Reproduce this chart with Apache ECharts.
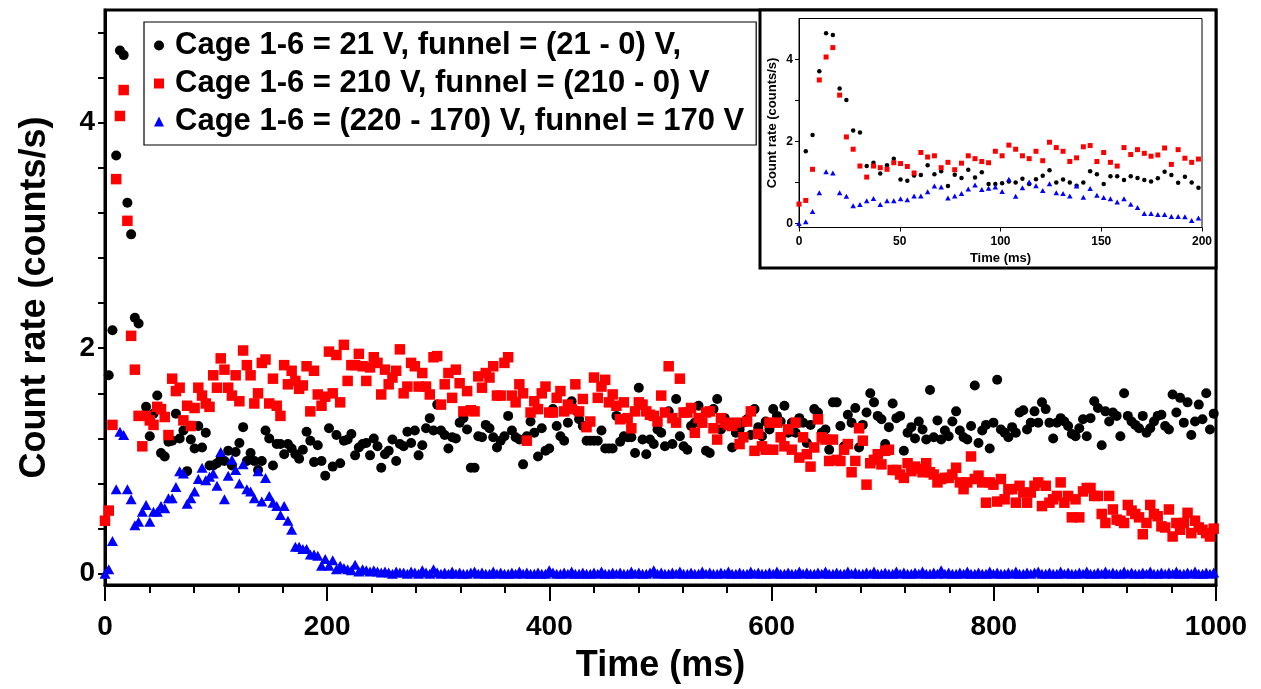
<!DOCTYPE html>
<html>
<head>
<meta charset="utf-8">
<script src="https://cdn.jsdelivr.net/npm/echarts@6/dist/echarts.min.js"></script>
<style>
html,body{margin:0;padding:0;background:#fff;}
#chart{width:1261px;height:689px;}
</style>
</head>
<body>
<div id="chart"></div>
<script>
// ---- data ----
const SERIES_NAMES = [
  'Cage 1-6 = 21 V, funnel = (21 - 0) V,',
  'Cage 1-6 = 210 V, funnel = (210 - 0) V',
  'Cage 1-6 = (220 - 170) V, funnel = 170 V'
];
const TIME_STEP_MS = 3.36; // sampling interval of the bins
const X_TICKS = [0, 200, 400, 600, 800, 1000];
const Y_TICK_LABELS = [0, 2, 4];
const Y_TICKS = [0, 0.4, 0.8, 1.2, 1.6, 2, 2.4, 2.8, 3.2, 3.6, 4, 4.4, 4.8];
const INSET_X_TICKS = [0, 50, 100, 150, 200];
const INSET_Y_TICKS = [0, 1, 2, 3, 4];

const black = [
  null,1.76,2.16,3.71,4.64,4.60,3.29,3.01,2.27,2.22,
  1.40,1.48,1.22,1.42,1.58,1.07,1.04,1.17,1.18,1.42,
  1.20,1.27,0.91,1.19,1.11,1.31,1.12,1.25,0.96,0.96,
  0.98,1.02,1.00,1.09,0.96,1.08,1.16,1.30,1.00,1.07,
  1.00,0.92,1.00,1.27,1.20,0.96,1.15,1.15,1.06,1.15,
  1.11,1.06,1.02,1.10,1.26,1.18,0.99,1.14,1.00,0.87,
  1.29,0.95,1.23,0.98,1.18,1.19,1.24,1.05,1.12,1.15,
  1.16,1.05,1.20,1.13,0.94,1.06,1.09,1.19,1.00,1.15,
  1.13,1.26,1.16,1.27,1.05,1.14,1.29,1.38,1.27,1.50,
  1.27,1.23,1.11,1.21,1.20,1.34,1.38,1.28,0.94,0.94,
  1.22,1.21,1.32,1.29,1.21,1.12,1.18,1.22,1.40,1.27,
  1.21,1.19,0.97,1.22,1.35,1.25,1.04,1.29,1.09,1.11,
  1.46,1.31,1.22,1.18,1.34,1.53,1.45,1.37,1.31,1.18,
  1.18,1.18,1.18,1.27,1.11,1.11,1.11,1.40,1.17,1.22,
  1.21,1.21,1.07,1.65,1.19,1.06,1.19,1.15,1.28,1.25,
  1.13,1.44,1.15,1.55,1.22,1.13,1.10,1.31,1.34,1.49,
  1.34,1.09,1.07,1.46,1.55,1.28,1.38,1.34,1.12,1.25,
  1.28,1.34,1.37,1.23,1.46,1.30,1.22,1.35,1.28,1.46,
  1.40,1.35,1.49,1.25,1.34,1.25,1.38,1.34,1.16,1.32,
  1.46,1.43,1.25,1.28,1.10,1.52,1.52,1.31,1.13,1.41,
  1.34,1.47,1.12,1.32,1.43,1.60,1.52,1.40,1.37,1.15,
  1.30,1.51,1.38,1.40,1.09,1.25,1.30,1.20,1.35,1.28,
  1.19,1.63,1.21,1.36,1.19,1.27,1.22,1.35,1.44,1.27,
  1.21,1.19,1.31,1.67,1.16,1.27,1.32,1.11,1.34,1.72,
  1.28,1.25,1.21,1.30,1.25,1.43,1.45,1.28,1.34,1.44,
  1.34,1.52,1.46,1.34,1.20,1.34,1.38,1.35,1.31,1.24,
  1.22,1.29,1.37,1.22,1.38,1.53,1.47,1.14,1.44,1.35,
  1.43,1.40,1.22,1.60,1.40,1.35,1.32,1.29,1.40,1.25,
  1.29,1.35,1.40,1.41,1.31,1.28,1.59,1.43,1.56,1.34,
  1.52,1.23,1.35,1.50,1.37,1.60,1.28,1.42
];

const red = [
  0.47,0.56,1.32,3.50,4.06,4.29,3.13,2.11,1.81,1.40,
  1.13,1.40,1.36,1.32,1.48,1.46,1.39,1.23,1.73,1.62,
  1.65,1.36,1.49,1.31,1.47,1.65,1.58,1.51,1.48,1.76,
  1.65,1.91,1.81,1.65,1.58,1.76,1.53,1.98,1.85,1.76,
  1.51,1.60,1.87,1.90,1.51,1.73,1.49,1.40,1.85,1.68,
  1.80,1.71,1.64,1.67,1.84,1.44,1.80,1.59,1.49,1.57,
  1.97,1.60,1.94,1.52,2.03,1.71,1.85,1.85,1.95,1.84,
  1.71,1.83,1.92,1.87,1.59,1.81,1.68,1.74,1.80,1.99,
  1.60,1.66,1.87,1.84,1.66,1.78,1.66,1.59,1.92,1.93,
  1.50,1.68,1.78,1.56,1.81,1.69,1.44,1.62,1.45,1.44,
  1.75,1.65,1.78,1.74,1.84,1.58,1.58,1.87,1.92,1.58,
  1.52,1.68,1.60,1.18,1.43,1.53,1.46,1.60,1.66,1.43,
  1.43,1.56,1.62,1.44,1.50,1.46,1.68,1.44,1.55,1.30,
  1.35,1.74,1.56,1.66,1.72,1.52,1.59,1.49,1.37,1.52,
  1.38,1.29,1.44,1.52,1.50,1.44,1.41,1.40,1.35,1.58,
  1.43,1.84,1.38,1.34,1.73,1.43,1.43,1.47,1.25,1.38,
  1.34,1.43,1.44,1.29,1.19,1.38,1.34,1.32,1.31,1.34,
  1.15,1.21,1.35,1.44,1.09,1.24,1.13,1.10,1.34,1.10,
  1.34,1.21,1.13,1.28,1.10,1.34,1.03,1.21,1.06,0.95,
  1.12,1.37,1.21,1.19,1.00,1.19,1.01,1.00,1.10,1.15,
  0.90,1.00,1.29,1.18,0.79,0.98,1.01,1.06,0.97,1.09,
  1.10,0.92,0.92,0.88,0.85,0.98,0.91,0.95,0.93,0.90,
  0.98,0.90,0.88,0.81,0.84,0.85,0.85,0.88,0.94,0.81,
  0.75,0.81,1.04,0.84,0.87,0.81,0.63,0.81,0.79,0.64,
  0.84,0.66,0.75,0.75,0.63,0.78,0.72,0.63,0.72,0.78,
  0.81,0.60,0.78,0.63,0.66,0.69,0.81,0.63,0.69,0.50,
  0.66,0.50,0.73,0.76,0.76,0.69,0.69,0.53,0.45,0.69,
  0.57,0.48,0.47,0.45,0.61,0.56,0.53,0.50,0.35,0.45,
  0.61,0.53,0.51,0.42,0.41,0.57,0.33,0.45,0.39,0.45,
  0.54,0.36,0.47,0.41,0.39,0.36,0.33,0.40
];

const blue = [
  0.00,0.04,0.29,0.75,1.26,1.23,0.75,0.66,0.43,0.46,
  0.55,0.61,0.46,0.55,0.55,0.60,0.58,0.67,0.67,0.77,
  0.91,0.89,0.62,0.67,0.73,0.84,0.94,0.83,0.86,0.89,
  0.78,1.08,0.66,0.87,1.01,0.92,0.80,0.97,0.75,0.73,
  0.67,0.91,0.64,0.85,0.69,0.63,0.60,0.52,0.60,0.47,
  0.39,0.24,0.24,0.22,0.22,0.17,0.17,0.16,0.07,0.13,
  0.07,0.12,0.04,0.07,0.05,0.04,0.03,0.08,0.02,0.04,
  0.03,0.02,0.03,0.02,0.01,0.02,0.01,0.00,0.02,0.01,
  0.01,0.00,0.02,0.01,0.00,0.03,0.01,0.00,0.04,0.01,
  0.00,0.01,0.00,0.02,0.00,0.01,0.00,0.00,0.01,0.02,
  0.00,0.01,0.00,0.00,0.02,0.00,0.01,0.00,0.00,0.01,
  0.00,0.02,0.00,0.01,0.00,0.00,0.01,0.00,0.00,0.03,
  0.01,0.00,0.00,0.01,0.00,0.02,0.00,0.00,0.01,0.00,
  0.00,0.01,0.00,0.02,0.00,0.00,0.01,0.00,0.01,0.00,
  0.00,0.02,0.00,0.01,0.00,0.00,0.01,0.03,0.00,0.01,
  0.00,0.00,0.01,0.00,0.02,0.00,0.00,0.01,0.00,0.00,
  0.02,0.00,0.01,0.00,0.00,0.01,0.00,0.02,0.00,0.00,
  0.01,0.00,0.00,0.02,0.00,0.01,0.00,0.00,0.01,0.00,
  0.02,0.00,0.00,0.01,0.00,0.00,0.02,0.00,0.01,0.00,
  0.00,0.01,0.00,0.02,0.00,0.00,0.01,0.00,0.00,0.02,
  0.00,0.01,0.00,0.00,0.01,0.00,0.02,0.00,0.00,0.01,
  0.00,0.00,0.02,0.00,0.01,0.00,0.00,0.01,0.00,0.02,
  0.00,0.00,0.01,0.00,0.03,0.00,0.01,0.00,0.00,0.01,
  0.00,0.02,0.00,0.00,0.01,0.00,0.00,0.02,0.00,0.01,
  0.00,0.00,0.01,0.00,0.02,0.00,0.00,0.01,0.00,0.01,
  0.02,0.00,0.00,0.01,0.00,0.00,0.02,0.00,0.01,0.00,
  0.00,0.01,0.00,0.02,0.00,0.00,0.01,0.00,0.02,0.00,
  0.01,0.00,0.00,0.02,0.00,0.01,0.00,0.00,0.01,0.00,
  0.02,0.00,0.00,0.01,0.00,0.01,0.00,0.02,0.00,0.00,
  0.01,0.00,0.02,0.00,0.00,0.01,0.00,0.01
];

// ---- build ----
const FONT = "'Liberation Sans', Arial, Helvetica, sans-serif";
function pairs(vals, maxT) {
  const out = [];
  vals.forEach(function (v, i) {
    const t = +(i * TIME_STEP_MS).toFixed(3);
    if (v === null) return;
    if (maxT !== undefined && t > maxT) return;
    out.push([t, v]);
  });
  return out;
}
const plain = function (v) { return String(v); };

const COLORS = ['#000000', '#ff0000', '#0000ff'];
const SYMBOLS = ['circle', 'rect', 'triangle'];
const MAIN_SIZES = [10, 10.5, [11, 10]];
const INSET_SIZES = [4.5, 5, [5.5, 5]];
const DATA = [black, red, blue];

const series = [];
for (let k = 0; k < 3; k++) {
  series.push({
    name: SERIES_NAMES[k], type: 'scatter', xAxisIndex: 0, yAxisIndex: 0,
    symbol: SYMBOLS[k], symbolSize: MAIN_SIZES[k],
    itemStyle: { color: COLORS[k], opacity: 1 },
    data: pairs(DATA[k]), z: 2 + k, silent: true
  });
}
for (let k = 0; k < 3; k++) {
  series.push({
    name: SERIES_NAMES[k], type: 'scatter', xAxisIndex: 1, yAxisIndex: 1,
    symbol: SYMBOLS[k], symbolSize: INSET_SIZES[k],
    itemStyle: { color: COLORS[k], opacity: 1 },
    data: pairs(DATA[k], 200), z: 12 + k, silent: true
  });
}

const txt = function (size) {
  return { fontSize: size, fontWeight: 'bold', color: '#000', fontFamily: FONT };
};

const option = {
  animation: false,
  backgroundColor: '#ffffff',
  grid: [
    { left: 105, top: 10, width: 1111, height: 577, show: true, borderColor: '#000', borderWidth: 3, backgroundColor: 'transparent' },
    { left: 799, top: 18.5, width: 403, height: 209, show: true, borderColor: '#000', borderWidth: 1, backgroundColor: 'transparent', z: 11 }
  ],
  xAxis: [
    {
      gridIndex: 0, type: 'value', min: 0, max: 1000, interval: 200,
      axisLine: { show: true, onZero: false, lineStyle: { color: '#000', width: 3 } },
      axisTick: { show: true, length: 16, lineStyle: { color: '#000', width: 2 } },
      minorTick: { show: true, splitNumber: 5, length: 8, lineStyle: { color: '#000', width: 2 } },
      axisLabel: Object.assign({ margin: 28, customValues: X_TICKS, formatter: plain }, txt(28)),
      splitLine: { show: false }, minorSplitLine: { show: false },
      name: 'Time (ms)', nameLocation: 'middle', nameGap: 63, nameTextStyle: txt(36)
    },
    {
      gridIndex: 1, type: 'value', min: 0, max: 200, interval: 50, z: 11,
      axisLine: { show: true, onZero: false, lineStyle: { color: '#000', width: 1 } },
      axisTick: { show: true, length: 4, lineStyle: { color: '#000', width: 1 } },
      axisLabel: Object.assign({ margin: 8, customValues: INSET_X_TICKS, formatter: plain }, txt(12)),
      splitLine: { show: false },
      name: 'Time (ms)', nameLocation: 'middle', nameGap: 24, nameTextStyle: txt(13)
    }
  ],
  yAxis: [
    {
      gridIndex: 0, type: 'value', min: -0.1, max: 5,
      axisLine: { show: true, onZero: false, lineStyle: { color: '#000', width: 3 } },
      axisTick: { show: true, customValues: Y_TICKS, length: 7, lineStyle: { color: '#000', width: 2 } },
      axisLabel: Object.assign({ margin: 10, customValues: Y_TICK_LABELS, formatter: plain }, txt(28)),
      splitLine: { show: false },
      name: 'Count rate (counts/s)', nameLocation: 'middle', nameGap: 52, nameTextStyle: txt(36)
    },
    {
      gridIndex: 1, type: 'value', min: -0.1, max: 5, z: 11,
      axisLine: { show: true, onZero: false, lineStyle: { color: '#000', width: 1 } },
      axisTick: { show: true, customValues: INSET_Y_TICKS, length: 4, lineStyle: { color: '#000', width: 1 } },
      axisLabel: Object.assign({ margin: 6, customValues: Y_TICK_LABELS, formatter: plain }, txt(12)),
      splitLine: { show: false },
      name: 'Count rate (counts/s)', nameLocation: 'middle', nameGap: 20, nameTextStyle: txt(13)
    }
  ],
  legend: {
    show: true, orient: 'vertical', left: 144, top: 22,
    itemGap: 7, itemWidth: 10, itemHeight: 10,
    padding: [8, 12, 8, 10],
    borderColor: '#000', borderWidth: 1.2, backgroundColor: '#fff',
    textStyle: Object.assign({ padding: [0, 0, 0, 6] }, txt(31)),
    selectedMode: false,
    data: SERIES_NAMES
  },
  graphic: [
    {
      type: 'rect', z: 10, silent: true,
      shape: { x: 760, y: 10, width: 456, height: 258 },
      style: { fill: '#fff', stroke: '#000', lineWidth: 3 }
    }
  ],
  series: series
};

const chart = echarts.init(document.getElementById('chart'), null, { renderer: 'canvas' });
chart.setOption(option);
</script>
</body>
</html>
